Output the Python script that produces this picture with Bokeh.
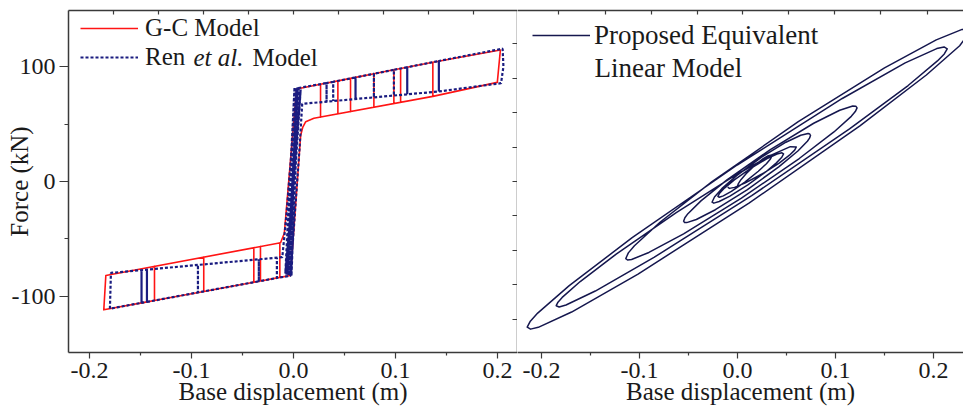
from bokeh.plotting import figure
from bokeh.models import LinearAxis, FixedTicker, Range1d, Legend, LegendItem, Label
from bokeh.layouts import row
from bokeh.embed import file_html
from bokeh.resources import INLINE

FONT = "Liberation Serif"
TXT = "#1a1a1a"
AX = "#3a3a3a"

# ---------------- data ----------------
x_ticks = [-0.2, -0.1, 0.0, 0.1, 0.2]
x_minor = [-0.15, -0.05, 0.05, 0.15]
x_tick_labels = ["-0.2", "-0.1", "0.0", "0.1", "0.2"]
y_ticks = [-100, 0, 100]
y_minor = [-50, 50]
y_tick_labels = ["-100", "0", "100"]
left_top_ticks = [-0.1765, -0.1324, -0.0882, -0.0441, 0.0, 0.0441, 0.0882, 0.1324, 0.1765]
left_right_ticks = [-120, -90, -60, -30, 0, 30, 60, 90, 120]
right_top_ticks = [-0.1827, -0.1347, -0.0878, -0.0408, 0.0051, 0.052, 0.099, 0.1459, 0.1939]

# G-C model (red, solid)
gc_x = [0.0, 0.003, 0.0265, 0.0265, 0.0265, 0.0435, 0.0435, 0.0435, 0.0559, 0.0559, 0.0559,
        0.0788, 0.0788, 0.0788, 0.0984, 0.0984, 0.0984, 0.105, 0.105, 0.105, 0.1366, 0.1366, 0.1366,
        0.2028, 0.1998, 0.1366, 0.02, 0.012, 0.009, 0.007, -0.003, -0.0134, -0.0134, -0.0134,
        -0.0324, -0.0324, -0.0324, -0.0389, -0.0389, -0.0389, -0.088, -0.088, -0.088,
        -0.1363, -0.1363, -0.1363, -0.1435, -0.1435, -0.1435, -0.186, -0.184, -0.0127, -0.009, 0.003]
gc_y = [0.0, 80.5, 84.6, 55.9, 84.6, 87.5, 58.7, 87.5, 89.7, 60.7, 89.7,
        93.7, 64.5, 93.7, 97.1, 67.7, 97.1, 98.2, 68.8, 98.2, 103.7, 74.0, 103.7,
        114.3, 86.2, 74.0, 55.0, 52.0, 47.0, 40.0, -81.7, -83.4, -53.4, -83.4,
        -86.5, -56.5, -86.5, -87.6, -57.6, -87.6, -95.6, -65.8, -95.6,
        -103.5, -73.8, -103.5, -104.7, -75.0, -104.7, -111.6, -81.7, -53.3, -45.0, 80.5]

# Ren et al. model (navy, dotted)
ren_x = [0.0, 0.003, 0.0324, 0.0324, 0.0324, 0.0389, 0.0389, 0.0389, 0.0608, 0.0608, 0.0608,
         0.0788, 0.0788, 0.0788, 0.0984, 0.0984, 0.0984, 0.1115, 0.1115, 0.1115, 0.1425, 0.1425, 0.1425,
         0.205, 0.2058, 0.2035, 0.1425, 0.0085, 0.006, -0.003, -0.0163, -0.0163, -0.0163,
         -0.034, -0.034, -0.034, -0.0937, -0.0937, -0.0937, -0.1437, -0.1437, -0.1437,
         -0.149, -0.149, -0.149, -0.18, -0.179, -0.011, -0.007, 0.003, -0.004, 0.004, -0.006,
         0.002, -0.002, 0.005, -0.005, 0.007, -0.007, 0.001, -0.008, 0.0]
ren_y = [0.0, 81.0, 85.6, 69.4, 85.6, 86.7, 70.0, 86.7, 90.5, 71.7, 90.5,
         93.7, 73.2, 93.7, 97.1, 74.8, 97.1, 99.4, 75.8, 99.4, 104.8, 78.3, 104.8,
         115.5, 100.0, 85.5, 78.3, 67.5, 30.0, -82.0, -83.9, -66.2, -83.9,
         -86.8, -67.7, -86.8, -96.5, -72.6, -96.5, -104.7, -76.8, -104.7,
         -105.5, -77.2, -105.5, -110.6, -79.5, -65.8, -30.0, 81.0, -81.0, 82.0, -80.0,
         80.0, -82.0, 81.0, -82.0, 80.0, -81.0, 82.0, -80.0, 0.0]

# Proposed equivalent linear model (dark navy, solid)
prop_x = [0.0,
          0.0009, 0.0035, 0.00875, 0.0175, 0.02625, 0.0315, 0.0341, 0.035,
          0.0336, 0.0295, 0.02125, 0.0075, -0.00625, -0.0145, -0.0186, -0.02,
          -0.0183, -0.0133, -0.00325, 0.0135, 0.03025, 0.0403, 0.0453, 0.047,
          0.0452, 0.0397, 0.02875, 0.0105, -0.00775, -0.0187, -0.0242, -0.026,
          -0.0235, -0.016, -0.00088, 0.02425, 0.0494, 0.0645, 0.072, 0.0737, 0.0745,
          0.0735, 0.0713, 0.0616, 0.0421, 0.00975, -0.0226, -0.042, -0.0518, -0.054, -0.055,
          -0.0537, -0.0506, -0.0373, -0.01075, 0.0335, 0.07775, 0.1043, 0.1176, 0.1207, 0.122,
          0.1202, 0.1161, 0.0984, 0.063, 0.004, -0.055, -0.0904, -0.1081, -0.1122, -0.114,
          -0.1114, -0.1052, -0.0788, -0.026, 0.062, 0.15, 0.2028, 0.2292, 0.238,
          0.2267, 0.1927, 0.1249, 0.0117, -0.1015, -0.1693, -0.2033, -0.2112, -0.2146,
          -0.2114, -0.2039, -0.1717, -0.1075, -0.0003, 0.1069, 0.1711, 0.2033, 0.2108, 0.214,
          0.211, 0.204, 0.1741, 0.1143, 0.0145, -0.08525, -0.1451, -0.175, -0.182, -0.185,
          -0.1832, -0.1789, -0.1605, -0.1238, -0.0625, -0.00125, 0.0355, 0.0539, 0.06,
          0.0583, 0.053, 0.0425, 0.025, 0.0075, -0.003, -0.00825, -0.01]
prop_y = [-4.0,
          -1.79, 1.6, 6.83, 14.0, 19.83, 22.4, 22.91, 22.0,
          19.57, 15.5, 8.92, -0.5, -8.58, -12.5, -13.69, -13.0,
          -10.2, -5.7, 1.45, 11.5, 19.95, 23.9, 24.95, 24.0,
          21.08, 16.2, 8.3, -3.0, -12.7, -17.4, -18.82, -18.0,
          -13.43, -6.2, 5.16, 21.0, 34.16, 40.2, 41.67, 41.3, 40.0,
          37.71, 35.02, 26.55, 12.72, -7.25, -24.54, -33.05, -35.76, -35.67, -34.5,
          -31.52, -27.98, -16.85, 1.385, 27.75, 50.64, 61.95, 65.6, 65.5, 64.0,
          60.78, 56.67, 43.1, 19.99, -14.5, -45.51, -61.7, -67.79, -68.26, -67.0,
          -62.07, -55.81, -35.2, -0.18, 52.0, 98.82, 123.2, 132.29, 131.0,
          118.01, 92.63, 48.39, -18.85, -80.47, -113.53, -126.81, -128.39, -126.7,
          -121.43, -114.41, -90.49, -48.86, 14.35, 72.2, 103.19, 115.59, 117.03, 115.4,
          110.96, 104.83, 83.46, 45.69, -12.3, -66.01, -95.26, -107.41, -109.08, -108.0,
          -104.9, -100.81, -87.0, -63.11, -27.0, 5.89, 23.4, 30.29, 30.0,
          27.26, 22.9, 16.05, 6.5, -1.45, -5.1, -5.99, -5.0]

# ---------------- helpers ----------------
def style_axis(ax):
    ax.axis_line_color = AX
    ax.axis_line_width = 1.5
    ax.major_tick_line_color = AX
    ax.minor_tick_line_color = AX
    ax.major_tick_line_width = 1.2
    ax.minor_tick_line_width = 1.2
    ax.major_label_text_font = FONT
    ax.major_label_text_color = TXT
    ax.axis_label_text_font = FONT
    ax.axis_label_text_font_style = "normal"
    ax.axis_label_text_color = TXT
    return ax


def bottom_axis():
    ax = LinearAxis(ticker=FixedTicker(ticks=x_ticks, minor_ticks=x_minor),
                    major_label_overrides=dict(zip(x_ticks, x_tick_labels)),
                    axis_label="Base displacement (m)")
    style_axis(ax)
    ax.major_tick_out = 6
    ax.major_tick_in = 0
    ax.minor_tick_out = 3
    ax.minor_tick_in = 0
    ax.major_label_text_font_size = "24px"
    ax.major_label_standoff = 4
    ax.axis_label_text_font_size = "25px"
    ax.axis_label_standoff = -3
    return ax


def bare_axis(ticks, tick_in):
    # ticks drawn as minor ticks only, so no tick labels are produced
    ax = LinearAxis(ticker=FixedTicker(ticks=[], minor_ticks=ticks))
    style_axis(ax)
    ax.major_tick_in = 0
    ax.major_tick_out = 0
    ax.minor_tick_in = tick_in
    ax.minor_tick_out = 0
    ax.major_label_standoff = 0
    return ax


def make_fig(width, xr, left_border):
    p = figure(width=width, height=419, x_range=xr, y_range=Range1d(-148.7, 148.7),
               x_axis_location=None, y_axis_location=None, toolbar_location=None,
               output_backend="svg", min_border_left=left_border, min_border_right=0,
               min_border_top=10, min_border_bottom=67, outline_line_color=None,
               background_fill_color="white", border_fill_color="white")
    p.xgrid.visible = False
    p.ygrid.visible = False
    return p


def one_legend(label, rend, loc, standoff, size):
    return Legend(items=[LegendItem(label=label, renderers=[rend])],
                  location=loc, glyph_width=58, glyph_height=32, label_height=32,
                  padding=0, margin=0, label_standoff=standoff,
                  background_fill_alpha=0, border_line_alpha=0,
                  label_text_font=FONT, label_text_font_size=size, label_text_color=TXT)

# ---------------- left panel ----------------
p1 = make_fig(517, Range1d(-0.2206, 0.2196), 68)

r_gc = p1.line(gc_x, gc_y, line_color="#ff1414", line_width=1.6, line_join="round")
r_ren = p1.line(ren_x, ren_y, line_color="#1a1c80", line_width=2.2, line_dash="3 2")

p1.add_layout(bottom_axis(), "below")

ly = LinearAxis(ticker=FixedTicker(ticks=y_ticks, minor_ticks=y_minor),
                major_label_overrides=dict(zip(y_ticks, y_tick_labels)),
                axis_label="Force (kN)")
style_axis(ly)
ly.major_tick_out = 9
ly.major_tick_in = 0
ly.minor_tick_out = 4
ly.minor_tick_in = 0
ly.major_label_text_font_size = "24px"
ly.major_label_standoff = 4
ly.axis_label_text_font_size = "25px"
ly.axis_label_standoff = -24
p1.add_layout(ly, "left")

p1.add_layout(bare_axis(left_top_ticks, 4), "above")
p1.add_layout(bare_axis(left_right_ticks, 5), "right")

p1.add_layout(one_legend("G-C Model", r_gc, (12, 308), 7, "25px"))
p1.add_layout(one_legend("Ren", r_ren, (12, 279), 7, "25px"))

p1.add_layout(Label(x=125, y=295, x_units="screen", y_units="screen", text="et al.",
                    text_font=FONT, text_font_style="italic", text_font_size="25px",
                    text_baseline="middle", text_align="left", text_color=TXT))
p1.add_layout(Label(x=184, y=295, x_units="screen", y_units="screen", text="Model",
                    text_font=FONT, text_font_size="25px",
                    text_baseline="middle", text_align="left", text_color=TXT))

# ---------------- right panel ----------------
p2 = make_fig(446, Range1d(-0.2245, 0.2306), 0)

r_prop = p2.line(prop_x, prop_y, line_color="#15174e", line_width=1.5, line_join="round")

p2.add_layout(bottom_axis(), "below")
p2.add_layout(bare_axis(right_top_ticks, 4), "above")

p2.add_layout(one_legend("Proposed Equivalent", r_prop, (15, 301), 4, "27px"))
p2.add_layout(Label(x=77, y=285, x_units="screen", y_units="screen", text="Linear Model",
                    text_font=FONT, text_font_size="27px",
                    text_baseline="middle", text_align="left", text_color=TXT))

layout = row(p1, p2, spacing=0)
open("out.html", "w").write(file_html(layout, INLINE))
